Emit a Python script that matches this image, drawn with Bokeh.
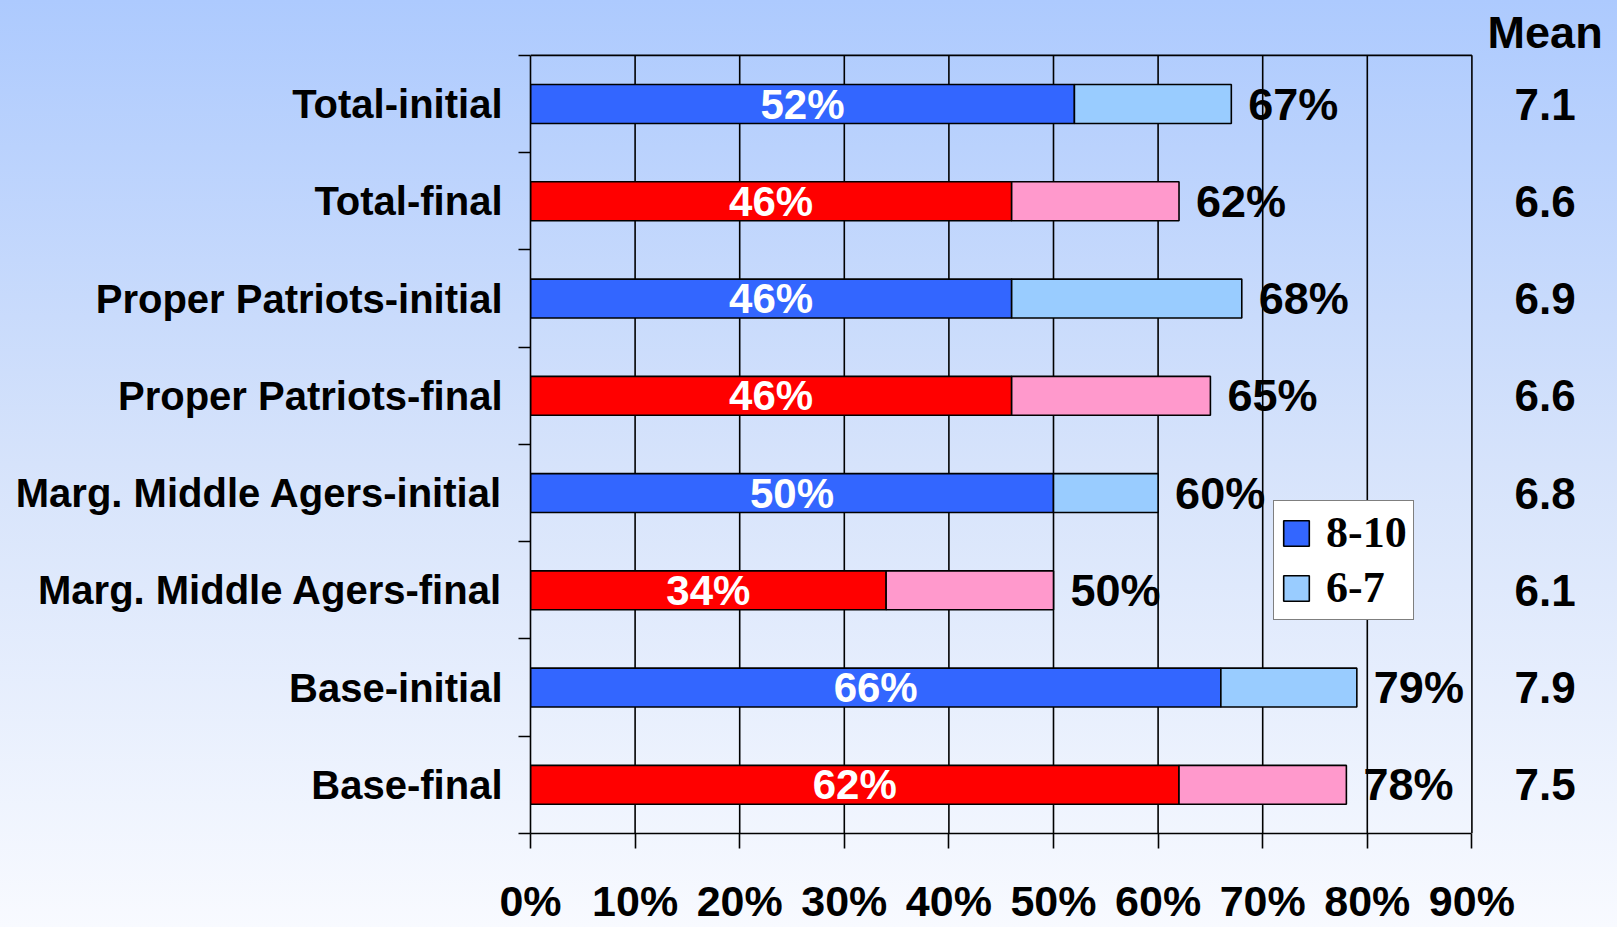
from bokeh.plotting import figure
from bokeh.models import Range1d, FixedTicker, ColumnDataSource, Legend, LegendItem
from bokeh.core.properties import value
from bokeh.embed import file_html
from bokeh.resources import INLINE

# ---------------- data ----------------
categories = [
    "Total-initial",
    "Total-final",
    "Proper Patriots-initial",
    "Proper Patriots-final",
    "Marg. Middle Agers-initial",
    "Marg. Middle Agers-final",
    "Base-initial",
    "Base-final",
]
share_8_10 = [52, 46, 46, 46, 50, 34, 66, 62]      # rating 8-10
share_6_10 = [67, 62, 68, 65, 60, 50, 79, 78]      # rating 6-10 (8-10 plus 6-7)
mean_scores = [7.1, 6.6, 6.9, 6.6, 6.8, 6.1, 7.9, 7.5]
x_ticks = [0, 10, 20, 30, 40, 50, 60, 70, 80, 90]
x_tick_labels = ["0%", "10%", "20%", "30%", "40%", "50%", "60%", "70%", "80%", "90%"]
series_names = ["8-10", "6-7"]
dark_colors = ["#3366FF", "#FF0000"] * 4
light_colors = ["#99CCFF", "#FF99CC"] * 4

# ---------------- layout constants ----------------
W, H = 1617, 927
LEFT, BOTTOM = 530, 92
PX_PER_PCT = 10.46
PX_PER_ROW = 97.5
n = len(categories)
x_end = (W - LEFT) / PX_PER_PCT
y_end = (H - BOTTOM) / PX_PER_ROW
MEAN_X = 97.0
MEAN_HEADER_Y = 8.23
FONT = value("Liberation Sans")

ypos = [n - i - 0.5 for i in range(n)]
src = ColumnDataSource(dict(
    y=ypos,
    top=share_8_10,
    total=share_6_10,
    mid=[v / 2 for v in share_8_10],
    dark=dark_colors,
    light=light_colors,
    lbl_in=[f"{v}%" for v in share_8_10],
    lbl_out=[f"{v}%" for v in share_6_10],
    mean_lbl=[f"{m:.1f}" for m in mean_scores],
    mean_x=[MEAN_X] * n,
))

p = figure(
    width=W, height=H,
    x_range=Range1d(0, x_end), y_range=Range1d(0, y_end),
    output_backend="svg", toolbar_location=None,
    min_border_left=LEFT, min_border_right=0, min_border_top=0, min_border_bottom=BOTTOM,
)
p.styles = {
    "background": "linear-gradient(to bottom, #ADCAFE 0%, #D6E3FB 50%, #F8FAFF 100%)",
}
p.background_fill_alpha = 0
p.border_fill_alpha = 0
p.outline_line_color = None
p.grid.visible = False

# grid lines and top border
p.segment(x0=x_ticks[1:], y0=0, x1=x_ticks[1:], y1=n, line_color="black", line_width=1.6)
p.segment(x0=[x_ticks[0]], y0=[n], x1=[x_ticks[-1]], y1=[n], line_color="black", line_width=1.6)

# bars
dark_r = p.hbar(y="y", left=0, right="top", height=0.4, fill_color="dark",
                line_color="black", line_width=1.6, source=src)
light_r = p.hbar(y="y", left="top", right="total", height=0.4, fill_color="light",
                 line_color="black", line_width=1.6, source=src)

# labels
p.text(x="mid", y="y", text="lbl_in", text_color="white", text_font=FONT,
       text_font_style="bold", text_font_size="42px", text_align="center",
       text_baseline="middle", source=src)
p.text(x="total", y="y", text="lbl_out", x_offset=17, text_color="black", text_font=FONT,
       text_font_style="bold", text_font_size="45px", text_align="left",
       text_baseline="middle", source=src)
p.text(x="mean_x", y="y", text="mean_lbl", text_color="black", text_font=FONT,
       text_font_style="bold", text_font_size="44px", text_align="center",
       text_baseline="middle", source=src)
p.text(x=[MEAN_X], y=[MEAN_HEADER_Y], text=["Mean"], text_color="black", text_font=FONT,
       text_font_style="bold", text_font_size="45px", text_align="center",
       text_baseline="middle")

# x axis
xa = p.xaxis[0]
xa.ticker = FixedTicker(ticks=x_ticks)
xa.major_label_overrides = {t: l for t, l in zip(x_ticks, x_tick_labels)}
xa.bounds = (x_ticks[0], x_ticks[-1])
xa.axis_line_color = "black"
xa.axis_line_width = 1.6
xa.major_tick_line_color = "black"
xa.major_tick_line_width = 1.6
xa.major_tick_out = 15
xa.major_tick_in = 0
xa.minor_tick_line_color = None
xa.major_label_standoff = 28
xa.major_label_text_font = "Liberation Sans"
xa.major_label_text_font_style = "bold"
xa.major_label_text_font_size = "43px"
xa.major_label_text_color = "black"

# y axis
ya = p.yaxis[0]
ya.ticker = FixedTicker(ticks=ypos, minor_ticks=list(range(n + 1)))
ya.major_label_overrides = {y: c for y, c in zip(ypos, categories)}
ya.bounds = (0, n)
ya.axis_line_color = "black"
ya.axis_line_width = 1.6
ya.major_tick_line_color = None
ya.major_tick_out = 0
ya.major_tick_in = 0
ya.minor_tick_line_color = "black"
ya.minor_tick_line_width = 1.6
ya.minor_tick_out = 12
ya.minor_tick_in = 0
ya.major_label_standoff = 16
ya.major_label_text_font = "Liberation Sans"
ya.major_label_text_font_style = "bold"
ya.major_label_text_font_size = "40px"
ya.major_label_text_color = "black"

# legend
legend = Legend(
    items=[LegendItem(label=series_names[0], renderers=[dark_r], index=0),
           LegendItem(label=series_names[1], renderers=[light_r], index=0)],
    location=(743, 213),
    label_text_font="Liberation Serif", label_text_font_style="bold",
    label_text_font_size="44px", label_text_color="black",
    glyph_width=32, glyph_height=32, label_standoff=14,
    padding=6, spacing=4, margin=0,
    border_line_color="black", border_line_width=1.6,
    background_fill_color="white", background_fill_alpha=1.0,
)
p.add_layout(legend)

open("out.html", "w").write(file_html(p, INLINE))
